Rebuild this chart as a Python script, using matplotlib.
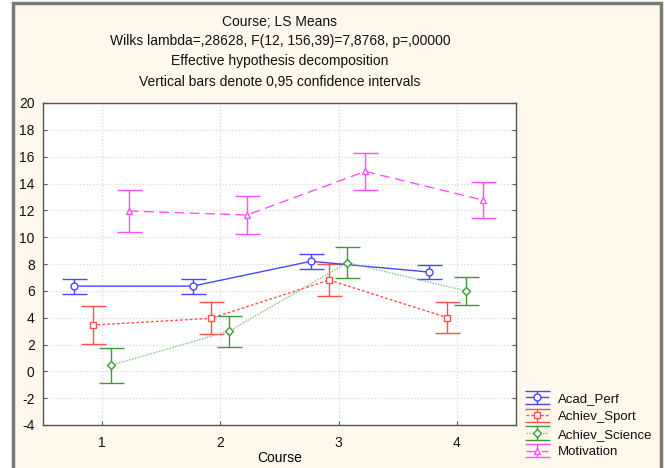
import numpy as np
import matplotlib
matplotlib.use('Agg')
import matplotlib.pyplot as plt
from matplotlib.patches import Rectangle

plt.rcParams['font.family'] = ['Liberation Sans', 'DejaVu Sans']
plt.rcParams['axes.unicode_minus'] = False

courses = [1, 2, 3, 4]
acad_perf = [6.35, 6.35, 8.2, 7.4]
acad_perf_ci = [0.55, 0.55, 0.55, 0.55]
achiev_sport = [3.45, 3.95, 6.8, 4.0]
achiev_sport_ci = [1.4, 1.2, 1.2, 1.15]
achiev_science = [0.45, 3.0, 8.1, 6.0]
achiev_science_ci = [1.3, 1.15, 1.15, 1.05]
motivation = [11.95, 11.65, 14.9, 12.75]
motivation_ci = [1.6, 1.4, 1.4, 1.35]

titles = ['Course; LS Means',
          'Wilks lambda=,28628, F(12, 156,39)=7,8768, p=,00000',
          'Effective hypothesis decomposition',
          'Vertical bars denote 0,95 confidence intervals']

fig = plt.figure(figsize=(6.65, 4.68), dpi=100)
# cream panel with grey frame
fig.patches.append(Rectangle((13 / 665, -0.05), 648 / 665, 1.05 - 3 / 468,
                             transform=fig.transFigure, facecolor='#fff8ec',
                             edgecolor='#7a7a7a', linewidth=2.5, zorder=-10))

ax = fig.add_axes([43 / 665, 43 / 468, 473 / 665, 322 / 468])
ax.set_facecolor('white')

series = [
    ('Acad_Perf', acad_perf, acad_perf_ci, '#4848ff', '#4848ff', 'o', '-', -0.235),
    ('Achiev_Sport', achiev_sport, achiev_sport_ci, '#ff5050', '#ff5050', 's', (0, (2, 1.5)), -0.08),
    ('Achiev_Science', achiev_science, achiev_science_ci, '#7cc47c', '#3c9a3c', 'D', (0, (1, 1)), 0.075),
    ('Motivation', motivation, motivation_ci, '#ff50ff', '#ff50ff', '^', (0, (7, 4)), 0.225),
]

x = np.array(courses, dtype=float)
handles = []
for name, vals, ci, lc, ec, mk, ls, off in series:
    h = ax.errorbar(x + off, vals, yerr=ci, color=lc, ecolor=ec, marker=mk,
                    markerfacecolor='white', markeredgecolor=ec,
                    markersize=5 if mk != 'D' else 4, linestyle=ls, linewidth=1,
                    elinewidth=1, capsize=9, capthick=1, label=name, zorder=3)
    handles.append(h)

ax.set_xlim(0.5, 4.5)
ax.set_ylim(-4, 20)
ax.set_xticks(courses)
ax.set_yticks(range(-4, 21, 2))
ax.tick_params(axis='both', direction='in', length=3, labelsize=10, color='#555555',
               labelcolor='#111111', right=True, top=False)
ax.tick_params(axis='x', pad=8)
ax.tick_params(axis='y', pad=6)
ax.grid(True, color='#d8d8d8', linestyle=':', linewidth=0.9)
ax.set_axisbelow(True)
for s in ax.spines.values():
    s.set_color('#555555')
    s.set_linewidth(1)
ax.set_xlabel('Course', fontsize=10, labelpad=1)

for i, t in enumerate(titles):
    fig.text(280 / 665, 1 - (21.5 + 20 * i) / 468, t, ha='center', va='center',
             fontsize=10, color='#111111')

leg = ax.legend(handles=handles, loc='lower left', bbox_to_anchor=(1.01, -0.12),
                frameon=False, fontsize=9.5, handlelength=1.7, labelspacing=0.42,
                borderaxespad=0, handletextpad=0.7)
for t in leg.get_texts():
    t.set_color('#111111')

fig.savefig('out.png', dpi=100, facecolor='white')
